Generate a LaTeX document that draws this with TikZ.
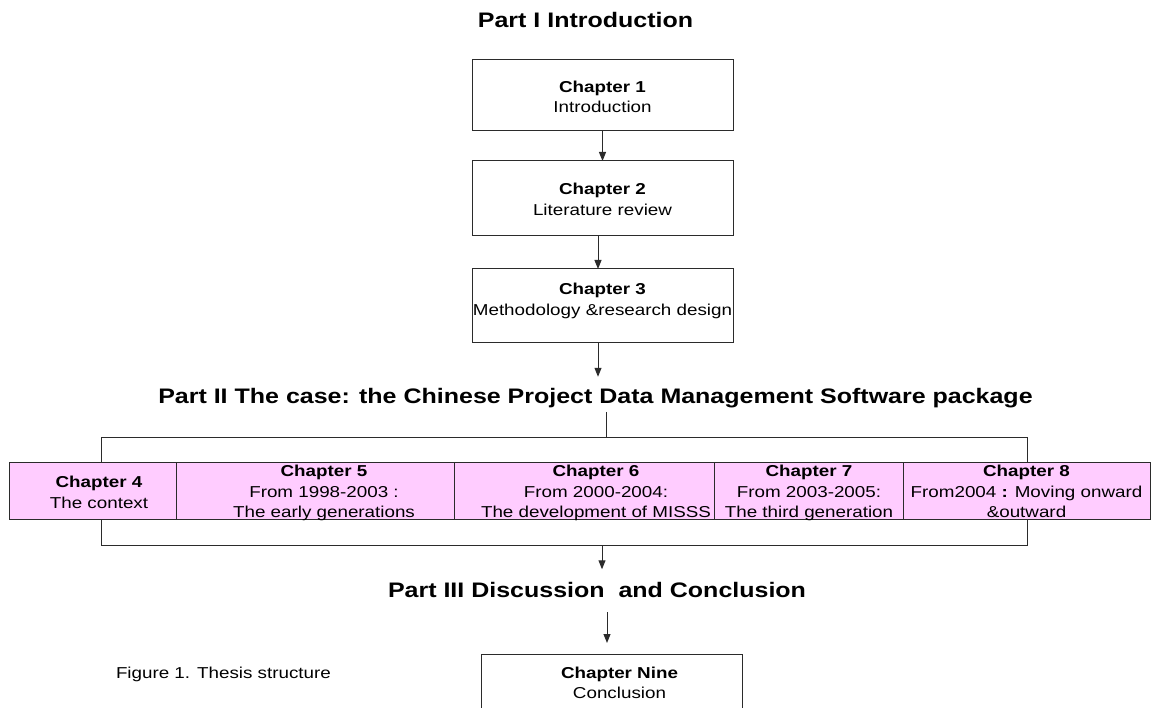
\documentclass[tikz,border=0pt]{standalone}
\usepackage{fontspec}
\setmainfont{Liberation Sans}[FakeStretch=1.19]
\usetikzlibrary{arrows.meta,calc}
\definecolor{pinkfill}{HTML}{FFCCFF}
\definecolor{edge}{HTML}{2B2B2B}
\begin{document}
\begin{tikzpicture}[x=1pt,y=-1pt,
  line width=1pt, draw=edge,
  every node/.style={inner sep=0pt, outer sep=0pt},
  bodytext/.style={font=\fontsize{15.8}{20.5}\selectfont, align=center, text=black},
  parttitle/.style={font=\fontsize{21}{24}\selectfont\bfseries, anchor=base, text=black},
  chapbox/.style={draw=edge, fill=white, minimum width=261pt},
  pinkbox/.style={draw=edge, fill=pinkfill, minimum height=57.5pt},
  arr/.style={-{Triangle[length=9pt,width=7pt]}},
]
\useasboundingbox (0,0) rectangle (1154,708);
\clip (0,0) rectangle (1154,708);

% part headings
\node[parttitle] (p1) at (585.5,28) {Part I Introduction};
\node[parttitle] (p2) at (595.5,404) {Part II The case: the Chinese Project Data Management Software package};
\node[parttitle] (p3) at (597,597.5) {Part III Discussion\ \ and Conclusion};

% Part I chapters
\node[chapbox, minimum height=71pt] (c1) at (602.5,95.5) {};
\node[bodytext] (t1) at (602.5,96.75) {\textbf{Chapter 1}\\Introduction};
\node[chapbox, minimum height=75pt] (c2) at (602.5,198.5) {};
\node[bodytext] (t2) at (602.5,199.25) {\textbf{Chapter 2}\\Literature review};
\node[chapbox, minimum height=74pt] (c3) at (602.5,306) {};
\node[bodytext] (t3) at (602.5,300.9) {\textbf{Chapter 3}\\Methodology \&research design};

\draw[arr] (c1.south) -- (c2.north);
\draw[arr] ($(c2.south)+(-4.5,0)$) -- ($(c3.north)+(-4.5,0)$);
\draw[arr, shorten >=12pt] ($(c3.south)+(-4.5,0)$) -- ($(p2.north)+(2.5,0)$);

% bracket around the Part II chapters
\coordinate (bl) at (101,437);
\coordinate (br) at (1027,437);
\coordinate (bbl) at (101,545);
\coordinate (bbr) at (1027,545);
\coordinate (p2foot) at (606,412);
\coordinate (btop) at (606,437);
\coordinate (bmid) at (602,545);
\draw (p2foot) -- (btop);
\draw (bl |- 0,462) -- (bl) -- (br) -- (br |- 0,462);
\draw (bbl |- 0,519) -- (bbl) -- (bbr) -- (bbr |- 0,519);

% Part II chapters
\node[pinkbox, minimum width=167pt] (c4) at (92.5,490.75) {};
\node[pinkbox, minimum width=278pt] (c5) at (315,490.75) {};
\node[pinkbox, minimum width=260pt] (c6) at (584,490.75) {};
\node[pinkbox, minimum width=189pt] (c7) at (808.5,490.75) {};
\node[pinkbox, minimum width=247pt] (c8) at (1026.5,490.75) {};
\node[bodytext] (t4) at (99,492.25) {\textbf{Chapter 4}\\The context};
\node[bodytext] (t5) at (324,493.4) {\textbf{Chapter 5}\\From 1998-2003 :\\The early generations};
\node[bodytext] (t6) at (596,493.4) {\textbf{Chapter 6}\\From 2000-2004:\\The development of MISSS};
\node[bodytext] (t7) at (809,493.4) {\textbf{Chapter 7}\\From 2003-2005:\\The third generation};
\node[bodytext] (t8) at (1026.5,491.75) {\textbf{Chapter 8}\\From2004 \textbf{:} Moving onward\\\&outward};

\draw[arr, shorten >=13pt] (bmid) -- (bmid |- p3.north);

% Part III
\node[chapbox, minimum height=62pt] (c9) at (611.5,685) {};
\node[bodytext] (t9) at (619.5,682.75) {\textbf{Chapter Nine}\\Conclusion};
\draw[arr, shorten <=14.5pt, shorten >=11pt] ($(p3.south)+(10,0)$) -- ($(c9.north)+(-4.5,0)$);

\node[bodytext, anchor=base west] (cap) at (116,678) {Figure 1. Thesis structure};
\end{tikzpicture}
\end{document}
